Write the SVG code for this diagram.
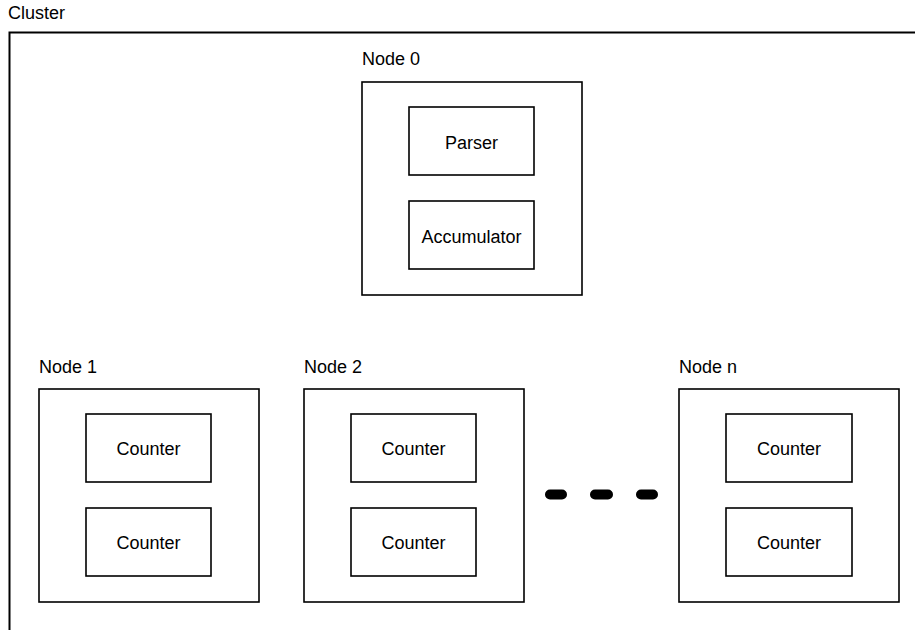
<svg xmlns="http://www.w3.org/2000/svg" width="915" height="630" viewBox="0 0 915 630">
  <style>
    .box { fill: #ffffff; stroke: #000000; stroke-width: 1.6; }
    .frame { fill: none; stroke: #000000; stroke-width: 2; }
    .label { font-family: "Liberation Sans", Arial, sans-serif; font-size: 18px; fill: #000000; }
    .mid { text-anchor: middle; }
    .dash { stroke: #000000; stroke-width: 10; stroke-linecap: round; }
  </style>
  <rect width="915" height="630" fill="#ffffff"/>

  <!-- cluster boundary, open towards right and bottom -->
  <g id="cluster">
    <text class="label" x="8" y="19">Cluster</text>
    <path class="frame" d="M9.5,640 V32.5 H925"/>
  </g>

  <g id="node0">
    <text class="label" x="362" y="65">Node 0</text>
    <rect class="box" x="362" y="82" width="220" height="213"/>
    <g id="parser">
      <rect class="box" x="409" y="107" width="125" height="68"/>
      <text class="label mid" x="471.5" y="148.5">Parser</text>
    </g>
    <g id="accumulator">
      <rect class="box" x="409" y="201" width="125" height="68"/>
      <text class="label mid" x="471.5" y="242.5">Accumulator</text>
    </g>
  </g>

  <g id="node1">
    <text class="label" x="39" y="373">Node 1</text>
    <rect class="box" x="39" y="389" width="220" height="213"/>
    <g id="node1-counter-a">
      <rect class="box" x="86" y="414" width="125" height="68"/>
      <text class="label mid" x="148.5" y="455">Counter</text>
    </g>
    <g id="node1-counter-b">
      <rect class="box" x="86" y="508" width="125" height="68"/>
      <text class="label mid" x="148.5" y="549">Counter</text>
    </g>
  </g>

  <g id="node2">
    <text class="label" x="304" y="373">Node 2</text>
    <rect class="box" x="304" y="389" width="220" height="213"/>
    <g id="node2-counter-a">
      <rect class="box" x="351" y="414" width="125" height="68"/>
      <text class="label mid" x="413.5" y="455">Counter</text>
    </g>
    <g id="node2-counter-b">
      <rect class="box" x="351" y="508" width="125" height="68"/>
      <text class="label mid" x="413.5" y="549">Counter</text>
    </g>
  </g>

  <g id="noden">
    <text class="label" x="679" y="373">Node n</text>
    <rect class="box" x="679" y="389" width="220" height="213"/>
    <g id="noden-counter-a">
      <rect class="box" x="726" y="414" width="126" height="68"/>
      <text class="label mid" x="789" y="455">Counter</text>
    </g>
    <g id="noden-counter-b">
      <rect class="box" x="726" y="508" width="126" height="68"/>
      <text class="label mid" x="789" y="549">Counter</text>
    </g>
  </g>

  <!-- ellipsis between node 2 and node n -->
  <g id="connectors">
    <line class="dash" x1="550" y1="494.5" x2="562" y2="494.5"/>
    <line class="dash" x1="595" y1="494.5" x2="608" y2="494.5"/>
    <line class="dash" x1="641" y1="494.5" x2="653" y2="494.5"/>
  </g>
</svg>
